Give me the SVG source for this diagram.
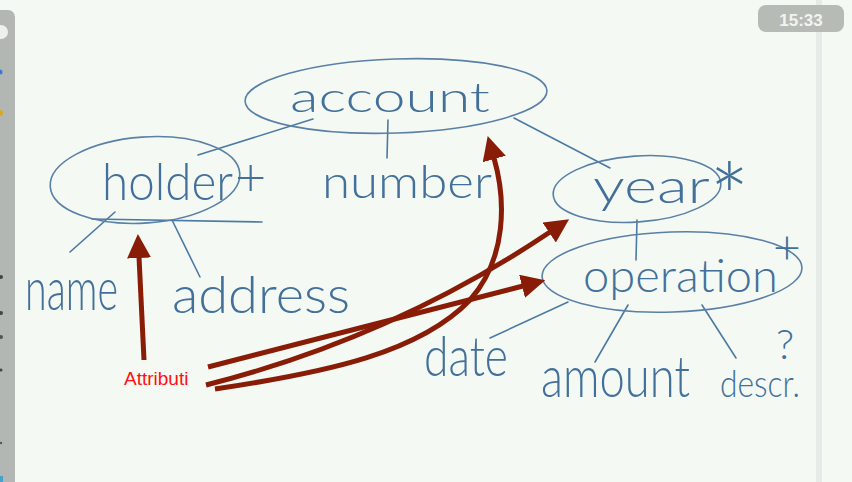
<svg xmlns="http://www.w3.org/2000/svg" width="852" height="482" viewBox="0 0 852 482">
<style>
.bg{fill:#f4f9f4}
.hand{font-family:Lato,"Open Sans",Inter,sans-serif;font-weight:300;fill:#43709a}
.shape{fill:none;stroke:#5a80a6;stroke-width:1.6}
.link{fill:none;stroke:#4d7aa3;stroke-width:1.6;stroke-linecap:round}
.arrow{fill:none;stroke:#891c07;stroke-width:5;stroke-linecap:butt}
.note{font-family:"Liberation Sans",Arial,sans-serif;font-size:19px;fill:#ff1010}
</style>
<defs>
<marker id="ah" markerUnits="userSpaceOnUse" viewBox="0 0 24 24" markerWidth="24" markerHeight="24" refX="1" refY="12" orient="auto">
<path d="M0,0 L24,12 L0,24 Z" fill="#891c07"/>
</marker>
</defs>
<rect class="bg" x="0" y="0" width="852" height="482"/>
<rect x="816" y="0" width="6" height="482" fill="#e7ebe7"/>
<path d="M0,10 H8 A7,7 0 0 1 15,17 V482 H0 Z" fill="#b3b7b3"/>
<circle cx="1" cy="32" r="7" fill="#eef0ee"/>
<circle cx="0" cy="72" r="2.5" fill="#3a78d8"/>
<circle cx="0" cy="113" r="3" fill="#d8a820"/>
<circle cx="1" cy="277" r="2" fill="#444"/>
<circle cx="1" cy="313" r="2" fill="#444"/>
<circle cx="1" cy="337" r="2" fill="#555"/>
<circle cx="1" cy="370" r="1.5" fill="#444"/>
<circle cx="1" cy="443" r="1.2" fill="#555"/>
<rect x="0" y="476" width="3" height="6" fill="#4aa0c8"/>
<g id="timer">
<rect x="758" y="5" width="86" height="27" rx="8" fill="#b6bbb6"/>
<text x="801" y="26" text-anchor="middle" font-family="'Liberation Sans',Arial,sans-serif" font-size="17" font-weight="bold" fill="#f2f4f2">15:33</text>
</g>
<g id="connectors">
<line class="link" x1="313" y1="119" x2="198" y2="155"/>
<line class="link" x1="388" y1="120" x2="387" y2="158"/>
<line class="link" x1="514" y1="118" x2="610" y2="168"/>
<line class="link" x1="92" y1="219" x2="262" y2="222"/>
<line class="link" x1="115" y1="212" x2="70" y2="252"/>
<line class="link" x1="172" y1="220" x2="200" y2="277"/>
<line class="link" x1="637" y1="220" x2="636" y2="260"/>
<line class="link" x1="568" y1="302" x2="490" y2="338"/>
<line class="link" x1="628" y1="305" x2="595" y2="362"/>
<line class="link" x1="702" y1="305" x2="736" y2="358"/>
</g>
<g id="account">
<ellipse class="shape" cx="396" cy="96" rx="151" ry="37" transform="rotate(-2 396 96)"/>
<text class="hand" x="290" y="112" font-size="42" textLength="200" lengthAdjust="spacingAndGlyphs">account</text>
</g>
<g id="holder">
<ellipse class="shape" cx="145" cy="180" rx="95" ry="43" transform="rotate(-4 145 180)"/>
<text class="hand" x="102" y="200" font-size="52" textLength="131" lengthAdjust="spacingAndGlyphs">holder</text>
<text class="hand" x="235" y="196" font-size="54">+</text>
</g>
<g id="number">
<text class="hand" x="322" y="198" font-size="46" textLength="170" lengthAdjust="spacingAndGlyphs">number</text>
</g>
<g id="year">
<ellipse class="shape" cx="637" cy="189" rx="84" ry="33" transform="rotate(-4 637 189)"/>
<text class="hand" x="593" y="203" font-size="48" textLength="117" lengthAdjust="spacingAndGlyphs">year</text>
<text class="hand" x="709" y="233" font-size="96">*</text>
</g>
<g id="operation">
<ellipse class="shape" cx="672" cy="272" rx="130" ry="40" transform="rotate(-2 672 272)"/>
<text class="hand" x="773" y="264" font-size="48">+</text>
<text class="hand" x="583" y="292" font-size="46" textLength="195" lengthAdjust="spacingAndGlyphs">operation</text>
</g>
<g id="name">
<text class="hand" x="25" y="310" font-size="60" textLength="93" lengthAdjust="spacingAndGlyphs">name</text>
</g>
<g id="address">
<text class="hand" x="172" y="313" font-size="52" textLength="178" lengthAdjust="spacingAndGlyphs">address</text>
</g>
<g id="date">
<text class="hand" x="424" y="376" font-size="56" textLength="84" lengthAdjust="spacingAndGlyphs">date</text>
</g>
<g id="amount">
<text class="hand" x="541" y="397" font-size="58" textLength="149" lengthAdjust="spacingAndGlyphs">amount</text>
</g>
<g id="descr">
<text class="hand" x="720" y="397" font-size="38" textLength="80" lengthAdjust="spacingAndGlyphs">descr.</text>
<text class="hand" x="776" y="359" font-size="42">?</text>
</g>
<g id="attributi">
<text class="note" x="124" y="385">Attributi</text>
</g>
<g id="annotations">
<path class="arrow" d="M144,360 L139,257" marker-end="url(#ah)"/>
<path class="arrow" d="M208,367 L523,286" marker-end="url(#ah)"/>
<path class="arrow" d="M206,385 Q392,338 550,232" marker-end="url(#ah)"/>
<path class="arrow" d="M215,389 C330,372 420,352 470,300 C507,258 506,200 494,158" marker-end="url(#ah)"/>
</g>
</svg>
